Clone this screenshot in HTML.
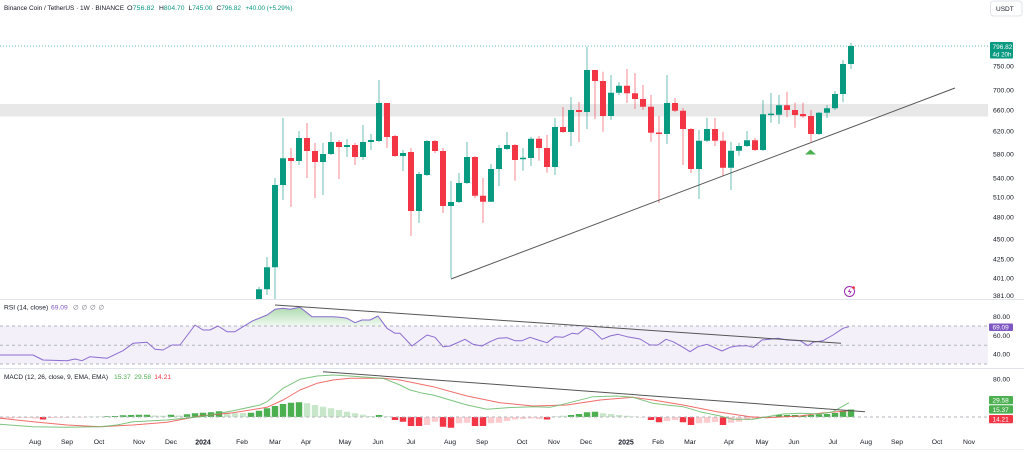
<!DOCTYPE html>
<html><head><meta charset="utf-8"><style>
html,body{margin:0;padding:0;background:#fff;}
svg{display:block;font-family:"Liberation Sans",sans-serif;}
</style></head><body>
<svg width="1024" height="452" viewBox="0 0 1024 452" xmlns="http://www.w3.org/2000/svg">
<defs>
<clipPath id="mp"><rect x="0" y="0" width="988" height="299"/></clipPath>
<clipPath id="rc"><rect x="0" y="300" width="988" height="26"/></clipPath>
<linearGradient id="gf" x1="0" y1="305" x2="0" y2="326" gradientUnits="userSpaceOnUse">
<stop offset="0" stop-color="#4caf50" stop-opacity="0.5"/><stop offset="1" stop-color="#4caf50" stop-opacity="0.08"/>
</linearGradient>
</defs>
<rect width="1024" height="452" fill="#fff"/>

<!-- header -->
<g font-size="6.7" fill="#131722">
<text x="4" y="10" textLength="120" lengthAdjust="spacingAndGlyphs">Binance Coin / TetherUS · 1W · BINANCE</text>
<text x="127" y="10" textLength="27.5" lengthAdjust="spacingAndGlyphs">O<tspan fill="#089981">756.82</tspan></text>
<text x="159" y="10" textLength="25.5" lengthAdjust="spacingAndGlyphs">H<tspan fill="#089981">804.70</tspan></text>
<text x="188.5" y="10" textLength="24" lengthAdjust="spacingAndGlyphs">L<tspan fill="#089981">745.00</tspan></text>
<text x="216.5" y="10" textLength="24.5" lengthAdjust="spacingAndGlyphs">C<tspan fill="#089981">796.82</tspan></text>
<text x="245.5" y="10" fill="#089981" textLength="47" lengthAdjust="spacingAndGlyphs">+40.00 (+5.29%)</text>
</g>

<!-- main pane -->
<rect x="0" y="104" width="988" height="12.5" fill="#e8e8e8"/>
<line x1="0" y1="46" x2="990" y2="46" stroke="#089981" stroke-opacity="0.6" stroke-dasharray="1 2"/>
<g clip-path="url(#mp)">
<path fill="none" stroke="#089981" stroke-opacity="0.6" stroke-width="1" d="M259 286.7V300M267 257V295M275 178V300M283 118V200M299 131V165M323 143V195M331 132V155M347 139V157M363 125V160M371 134V150M379 80V142M403 150V171M419 172V223M427 140V176M451 181V278M459 173V203M467 142V184M491 164V202M499 145V186M507 132V150M523 148V170.7M531 136.7V166M555 118V175M571 97V146M587 46.7V129M611 75V120M619 82V95M667 75V144M699 130V199M707 117.7V142M731 141.7V190M739 142.7V155.7M747 131V147M763 100V151M771 93V122.7M779 95V124M819 112V135M827 105V118M835 91V110M843 60V102.3M851 42.7V69"/>
<path fill="none" stroke="#f23645" stroke-opacity="0.6" stroke-width="1" d="M291 148V207M307 123V178M315 143V198M339 140V179M355 143V165M387 103V148M395 135V157M411 148V236M435 140V153M443 148V213M475 156V198M483 178V223M515 144V180.7M539 136V160.7M547 135V172.7M563 107V133M579 102V142M595 70V119M603 71.7V131.7M627 69V103M635 73V109M643 85V110M651 95V141.7M659 116V203M675 98V112M683 108V165M691 128V173M715 118V146M723 131.7V175.7M755 138V151M787 91.7V117.3M795 102.7V127.7M803 102.7V118M811 110V141.7"/>
<path fill="#089981" d="M256 289.3h6v10.7h-6zM264 267.3h6v22h-6zM272 185h6v82.3h-6zM280 158.3h6v26.7h-6zM296 138h6v23h-6zM320 154h6v8h-6zM328 142h6v12h-6zM344 145h6v2h-6zM360 142h6v15h-6zM368 140h6v2h-6zM376 103h6v38h-6zM400 153h6v3h-6zM416 174h6v37h-6zM424 141h6v34h-6zM448 202h6v4h-6zM456 183h6v19h-6zM464 157h6v26h-6zM488 169h6v32.7h-6zM496 148h6v21h-6zM504 145h6v4h-6zM520 157.8h6v1.5h-6zM528 138.7h6v19.3h-6zM552 127h6v40h-6zM568 110h6v22h-6zM584 70h6v42h-6zM608 92.7h6v23.3h-6zM616 85.7h6v7h-6zM664 103h6v31h-6zM696 140.7h6v28.3h-6zM704 129h6v11.7h-6zM728 150.7h6v17h-6zM736 146h6v4.7h-6zM744 140.3h6v5.7h-6zM760 114.3h6v35.7h-6zM768 113.6h6v1.5h-6zM776 105.3h6v9.4h-6zM816 112.7h6v21.3h-6zM824 108.3h6v4.4h-6zM832 94h6v14.3h-6zM840 64h6v30h-6zM848 46h6v18h-6z"/>
<path fill="#f23645" d="M288 158h6v3h-6zM304 138h6v13h-6zM312 151h6v11h-6zM336 142h6v5h-6zM352 145h6v12h-6zM384 103h6v34h-6zM392 136h6v20h-6zM408 152h6v59h-6zM432 141h6v10h-6zM440 151h6v55h-6zM472 157h6v38.7h-6zM480 195.7h6v6h-6zM512 145h6v15h-6zM536 138.7h6v9.3h-6zM544 148h6v19h-6zM560 127h6v5h-6zM576 110h6v2h-6zM592 70h6v11h-6zM600 81h6v35h-6zM624 85.7h6v7.6h-6zM632 93.3h6v5.7h-6zM640 99h6v7.7h-6zM648 106.7h6v26h-6zM656 132.5h6v1.5h-6zM672 103h6v7.7h-6zM680 110.7h6v18.3h-6zM688 129h6v40h-6zM712 129h6v11.7h-6zM720 140.7h6v27h-6zM752 140.3h6v9.7h-6zM784 105.3h6v4.7h-6zM792 110h6v5h-6zM800 114h6v2.3h-6zM808 116h6v18h-6z"/>
</g>
<line x1="451" y1="279" x2="955" y2="88" stroke="#555" stroke-width="1"/>
<path d="M805 154.5L810.5 149.5L816 154.5Z" fill="#4caf50"/>
<circle cx="849.5" cy="291.5" r="5" fill="#fff" stroke="#9c27b0" stroke-width="1"/>
<path d="M850.5 288L847.8 292h2.2l-1 3.2 2.8-4h-2.2z" fill="#9c27b0"/>
<circle cx="853.6" cy="287.6" r="1.4" fill="#f23645"/>

<!-- separators -->
<line x1="0" y1="299.5" x2="1024" y2="299.5" stroke="#e0e3eb"/>
<line x1="0" y1="368.5" x2="1024" y2="368.5" stroke="#e0e3eb"/>
<line x1="0" y1="449.5" x2="1024" y2="449.5" stroke="#eef0f3"/>

<!-- RSI pane -->
<rect x="0" y="326" width="988" height="38" fill="#7e57c2" fill-opacity="0.09"/>
<g stroke="#b2b5be" stroke-width="1" stroke-dasharray="3 3">
<line x1="0" y1="326" x2="988" y2="326"/>
<line x1="0" y1="345.3" x2="988" y2="345.3"/>
<line x1="0" y1="364" x2="988" y2="364"/>
</g>
<polygon clip-path="url(#rc)" fill="url(#gf)" points="240,326 243,326.7 253,320.7 267,315 275,309.3 283,308.3 290,309.3 300,307.3 312,316.7 320,316.7 333,316.7 340,317.3 347,318.3 355,322.7 362,320 370,320 378,316 387,328.3 387,326"/>
<polyline fill="none" stroke="#8c6bd0" stroke-width="1" stroke-linejoin="round" points="0,355 33,355 43,360 67,360.7 75,359 82,360.7 90,356.7 107,358.3 123,350.7 133,343.3 147,342.3 155,349.3 163,350 172,345 180,345 195,325 203,330 210,330 218,326 227,331.7 235,331.7 243,326.7 253,320.7 267,315 275,309.3 283,308.3 290,309.3 300,307.3 312,316.7 320,316.7 333,316.7 340,317.3 347,318.3 355,322.7 362,320 370,320 378,316 387,328.3 395,333.3 400,333.3 412,346 427,335 435,337.3 443,346.7 450,346 465,339.3 473,344.3 482,346 490,341.7 498,338.3 507,337.7 515,340.7 522,340.7 530,337.3 538,340 547,342.7 555,336.7 563,337.3 572,333.3 578,334 586,327.7 593,330.7 602,339.3 610,336 618,334.3 627,336.7 640,339 650,345 658,345 666,339.3 673,341.7 682,346.7 690,351.7 698,346.7 707,344.3 722,351 730,347.3 737,346 747,345.7 753,347.3 762,340 770,339.3 778,338.3 787,340 800,340.7 808,345.7 813,342.3 823,340.7 833,335 843,328.3 849,326.7"/>
<line x1="275" y1="305" x2="841" y2="343.3" stroke="#555" stroke-width="1"/>
<g font-size="6.7">
<text x="4" y="309.5" fill="#131722">RSI (14, close)</text>
<text x="51" y="309.5" fill="#7e57c2">69.09</text>
<text x="73" y="309.5" fill="#6a6d78">∅</text>
<text x="81.5" y="309.5" fill="#6a6d78">∅</text>
<text x="90" y="309.5" fill="#6a6d78">∅</text>
<text x="98.5" y="309.5" fill="#6a6d78">∅</text>
</g>

<!-- MACD pane -->
<path fill="#4caf50" d="M103.8 416.2h6.4v.8h-6.4zM111.8 416h6.4v1h-6.4zM119.8 415.3h6.4v1.7h-6.4zM127.8 415h6.4v2h-6.4zM135.8 414.7h6.4v2.3h-6.4zM143.8 414.7h6.4v2.3h-6.4zM167.8 414.7h6.4v2.3h-6.4zM183.8 414.3h6.4v2.7h-6.4zM191.8 413.3h6.4v3.7h-6.4zM199.8 412.7h6.4v4.3h-6.4zM207.8 412.3h6.4v4.7h-6.4zM215.8 411.3h6.4v5.7h-6.4zM247.8 412.7h6.4v4.3h-6.4zM255.8 410.7h6.4v6.3h-6.4zM263.8 408.3h6.4v8.7h-6.4zM271.8 406h6.4v11h-6.4zM279.8 404h6.4v13h-6.4zM287.8 402.7h6.4v14.3h-6.4zM295.8 402.3h6.4v14.7h-6.4zM375.8 415h6.4v2h-6.4zM567.8 415h6.4v2h-6.4zM575.8 414h6.4v3h-6.4zM583.8 412.3h6.4v4.7h-6.4zM591.8 411.7h6.4v5.3h-6.4zM775.8 415h6.4v2h-6.4zM783.8 415h6.4v2h-6.4zM791.8 415h6.4v2h-6.4zM799.8 415.5h6.4v1.5h-6.4zM807.8 415h6.4v2h-6.4zM815.8 414.5h6.4v2.5h-6.4zM823.8 414h6.4v3h-6.4zM831.8 413h6.4v4h-6.4zM839.8 411h6.4v6h-6.4zM847.8 409.5h6.4v7.5h-6.4z"/>
<path fill="#c8e6c9" d="M87.8 416.5h6.4v.5h-6.4zM95.8 416.5h6.4v.5h-6.4zM151.8 415.5h6.4v1.5h-6.4zM159.8 415.8h6.4v1.2h-6.4zM175.8 415.5h6.4v1.5h-6.4zM223.8 412.7h6.4v4.3h-6.4zM231.8 413.3h6.4v3.7h-6.4zM239.8 413h6.4v4h-6.4zM303.8 403.3h6.4v13.7h-6.4zM311.8 405h6.4v12h-6.4zM319.8 406.7h6.4v10.3h-6.4zM327.8 408.3h6.4v8.7h-6.4zM335.8 410h6.4v7h-6.4zM343.8 411.7h6.4v5.3h-6.4zM351.8 413.3h6.4v3.7h-6.4zM359.8 414.7h6.4v2.3h-6.4zM367.8 416h6.4v1h-6.4zM383.8 416.3h6.4v.7h-6.4zM551.8 416.2h6.4v.8h-6.4zM559.8 415.8h6.4v1.2h-6.4zM599.8 413.3h6.4v3.7h-6.4zM607.8 414h6.4v3h-6.4zM615.8 415h6.4v2h-6.4zM623.8 415.8h6.4v1.2h-6.4zM631.8 416.5h6.4v.5h-6.4zM767.8 416.2h6.4v.8h-6.4z"/>
<path fill="#f23645" d="M39.8 417h6.4v2.5h-6.4zM391.8 417h6.4v3h-6.4zM399.8 417h6.4v4.7h-6.4zM407.8 417h6.4v9h-6.4zM415.8 417h6.4v9h-6.4zM439.8 417h6.4v9.7h-6.4zM447.8 417h6.4v10.7h-6.4zM471.8 417h6.4v9h-6.4zM479.8 417h6.4v9h-6.4zM543.8 417h6.4v2.5h-6.4zM647.8 417h6.4v3h-6.4zM655.8 417h6.4v5.3h-6.4zM679.8 417h6.4v5.3h-6.4zM687.8 417h6.4v8h-6.4zM719.8 417h6.4v8h-6.4z"/>
<path fill="#fccbcd" d="M0 417h6.2v1.5h-6.2zM7.8 417h6.4v1.5h-6.4zM15.8 417h6.4v1h-6.4zM23.8 417h6.4v1h-6.4zM31.8 417h6.4v1.5h-6.4zM47.8 417h6.4v1h-6.4zM55.8 417h6.4v.8h-6.4zM63.8 417h6.4v.8h-6.4zM71.8 417h6.4v.5h-6.4zM79.8 417h6.4v.5h-6.4zM423.8 417h6.4v8h-6.4zM431.8 417h6.4v4.7h-6.4zM455.8 417h6.4v6.3h-6.4zM463.8 417h6.4v5.7h-6.4zM487.8 417h6.4v6.3h-6.4zM495.8 417h6.4v5.7h-6.4zM503.8 417h6.4v4h-6.4zM511.8 417h6.4v2.5h-6.4zM519.8 417h6.4v2h-6.4zM527.8 417h6.4v1.5h-6.4zM535.8 417h6.4v2h-6.4zM639.8 417h6.4v.5h-6.4zM663.8 417h6.4v4h-6.4zM671.8 417h6.4v3h-6.4zM695.8 417h6.4v6.3h-6.4zM703.8 417h6.4v5.7h-6.4zM711.8 417h6.4v5h-6.4zM727.8 417h6.4v5.7h-6.4zM735.8 417h6.4v4.7h-6.4zM743.8 417h6.4v3h-6.4zM751.8 417h6.4v2.3h-6.4zM759.8 417h6.4v1h-6.4z"/>
<line x1="0" y1="417" x2="988" y2="417" stroke="#b2b5be" stroke-dasharray="3 3"/>
<polyline fill="none" stroke="#ef5350" stroke-opacity="0.85" stroke-width="1" stroke-linejoin="round" points="0,418.3 33,421.7 67,425 100,426.7 133,425 167,422.3 200,416 233,412.7 267,407.3 283,400 300,390 317,383.3 333,380 350,378.3 367,378.3 383,378.3 400,380 433,386.7 467,396 500,402.7 533,406 567,405 600,400 633,397.3 653,400 683,405 717,411.7 750,416.7 767,417.7 800,416 820,413.3 849,410.7"/>
<polyline fill="none" stroke="#66bb6a" stroke-opacity="0.85" stroke-width="1" stroke-linejoin="round" points="0,424.3 33,426.7 67,427.3 100,426.7 117,425 133,421.7 167,420 200,416.7 233,410.7 260,405 267,401.7 283,388.3 300,379.3 317,376 333,375 350,376 367,377.3 383,378.3 400,385 410,390 423,393.3 433,395 450,400 467,405 487,409.3 507,407.7 533,406.7 550,407.3 567,403.3 593,396.7 617,396 633,397.3 653,403.3 667,405 683,406.7 700,411.7 720,416 733,419.3 753,419.3 767,416.7 783,414 800,413.3 820,414 833,411.7 849,402.7"/>
<line x1="323" y1="371.7" x2="865" y2="411.7" stroke="#555" stroke-width="1"/>
<g font-size="6.7">
<text x="4" y="379" fill="#131722" textLength="104" lengthAdjust="spacingAndGlyphs">MACD (12, 26, close, 9, EMA, EMA)</text>
<text x="114" y="379" fill="#4caf50">15.37</text>
<text x="134.3" y="379" fill="#4caf50">29.58</text>
<text x="154.3" y="379" fill="#f23645">14.21</text>
</g>

<!-- right axis -->
<rect x="990.5" y="1" width="31.5" height="15" rx="3" fill="#fff" stroke="#e0e3eb"/>
<text x="996" y="11" font-size="6.5" fill="#131722">USDT</text>
<g font-size="6.8" fill="#131722">
<text x="993" y="68.4">750.00</text>
<text x="993" y="92.4">700.00</text>
<text x="993" y="112.4">660.00</text>
<text x="993" y="133.4">620.00</text>
<text x="993" y="156.4">580.00</text>
<text x="993" y="180.4">540.00</text>
<text x="993" y="199.4">510.00</text>
<text x="993" y="219.4">480.00</text>
<text x="993" y="241.4">450.00</text>
<text x="993" y="261.4">425.00</text>
<text x="993" y="280.4">401.00</text>
<text x="993" y="298.2">381.00</text>
<text x="993" y="319.1">80.00</text>
<text x="993" y="338.1">60.00</text>
<text x="993" y="356.4">40.00</text>
<text x="993" y="381.7">80.00</text>
</g>
<rect x="990" y="42" width="23" height="16.5" rx="1" fill="#089981"/>
<text x="992.5" y="49" font-size="6.5" fill="#fff">796.82</text>
<text x="992.5" y="56.5" font-size="6.2" fill="#fff">4d 20h</text>
<rect x="989" y="323.5" width="24" height="7.5" rx="1" fill="#7e57c2"/>
<text x="992.5" y="329.6" font-size="6.5" fill="#fff">69.09</text>
<rect x="989" y="396" width="24" height="8.3" rx="1" fill="#4caf50"/>
<text x="992.5" y="402.5" font-size="6.5" fill="#fff">29.58</text>
<rect x="989" y="405.3" width="24" height="8.3" rx="1" fill="#4caf50"/>
<text x="992.5" y="411.8" font-size="6.5" fill="#fff">15.37</text>
<rect x="989" y="415" width="24" height="8.3" rx="1" fill="#f23645"/>
<text x="992.5" y="421.5" font-size="6.5" fill="#fff">14.21</text>

<!-- time axis -->
<g font-size="6.8" fill="#131722" text-anchor="middle">
<text x="35" y="444.2">Aug</text>
<text x="67" y="444.2">Sep</text>
<text x="99" y="444.2">Oct</text>
<text x="139" y="444.2">Nov</text>
<text x="171" y="444.2">Dec</text>
<text x="203" y="444.4" font-weight="bold" font-size="7">2024</text>
<text x="242" y="444.2">Feb</text>
<text x="275" y="444.2">Mar</text>
<text x="306" y="444.2">Apr</text>
<text x="345" y="444.2">May</text>
<text x="378" y="444.2">Jun</text>
<text x="411" y="444.2">Jul</text>
<text x="450" y="444.2">Aug</text>
<text x="482" y="444.2">Sep</text>
<text x="522" y="444.2">Oct</text>
<text x="554" y="444.2">Nov</text>
<text x="586" y="444.2">Dec</text>
<text x="626" y="444.4" font-weight="bold" font-size="7">2025</text>
<text x="658" y="444.2">Feb</text>
<text x="690" y="444.2">Mar</text>
<text x="729" y="444.2">Apr</text>
<text x="762" y="444.2">May</text>
<text x="794" y="444.2">Jun</text>
<text x="833" y="444.2">Jul</text>
<text x="866" y="444.2">Aug</text>
<text x="897" y="444.2">Sep</text>
<text x="937" y="444.2">Oct</text>
<text x="969" y="444.2">Nov</text>
</g>
</svg>
</body></html>
